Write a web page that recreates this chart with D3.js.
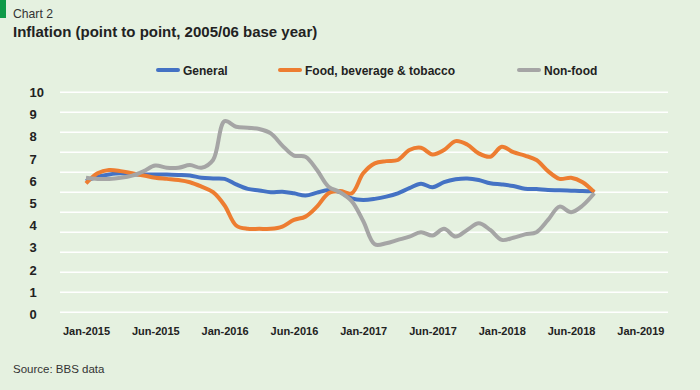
<!DOCTYPE html>
<html><head><meta charset="utf-8">
<script src="https://cdn.jsdelivr.net/npm/d3@7"></script>
<style>
html,body{margin:0;padding:0;background:#e5f1e0;}
svg{display:block;}
</style></head>
<body>
<script>
// ---- data ----
const tickLabels = ["Jan-2015","Jun-2015","Jan-2016","Jun-2016","Jan-2017","Jun-2017","Jan-2018","Jun-2018","Jan-2019"];
const tickMonths = [0,6,12,18,24,30,36,42,48];
const yTicks = [0,1,2,3,4,5,6,7,8,9,10];
const seriesNames = ["General","Food, beverage & tobacco","Non-food"];
// monthly, Jan-2015 .. Sep-2018 (month index 0..44)
const general = [6.0,6.2,6.3,6.35,6.3,6.3,6.3,6.3,6.28,6.25,6.15,6.12,6.1,5.85,5.65,5.58,5.5,5.52,5.45,5.35,5.48,5.6,5.5,5.22,5.15,5.2,5.3,5.45,5.68,5.88,5.72,5.95,6.08,6.12,6.05,5.9,5.85,5.78,5.66,5.64,5.6,5.59,5.57,5.55,5.55];
const food = [5.9,6.35,6.5,6.45,6.35,6.25,6.15,6.1,6.05,5.95,5.75,5.5,4.9,4.0,3.85,3.85,3.85,3.95,4.25,4.4,4.85,5.45,5.55,5.45,6.35,6.8,6.9,6.95,7.4,7.5,7.2,7.4,7.8,7.65,7.25,7.1,7.55,7.3,7.15,6.95,6.45,6.1,6.15,5.95,5.5];
const nonFood = [6.15,6.1,6.1,6.15,6.25,6.45,6.7,6.6,6.6,6.72,6.6,6.95,8.7,8.45,8.4,8.35,8.15,7.6,7.15,7.1,6.5,5.75,5.5,5.1,4.2,3.15,3.2,3.35,3.5,3.7,3.55,3.85,3.5,3.8,4.1,3.8,3.35,3.45,3.6,3.7,4.25,4.85,4.6,4.9,5.45];
const colors = ["#4472c4","#ed7d31","#a5a5a5"];

const W = 700, H = 390;
const FONT = "'Liberation Sans', Arial, sans-serif";
const svg = d3.select("body").append("svg").attr("width", W).attr("height", H);
svg.append("rect").attr("width", W).attr("height", H).attr("fill", "#e5f1e0");

// header
svg.append("rect").attr("x",0).attr("y",0).attr("width",6).attr("height",18).attr("fill","#0f9a48");
svg.append("text").attr("x",13).attr("y",18).attr("font-family",FONT).attr("font-size",12.2)
  .attr("fill","#333").text("Chart 2");
svg.append("text").attr("x",13).attr("y",37).attr("font-family",FONT).attr("font-size",15)
  .attr("font-weight","bold").attr("fill","#222").text("Inflation (point to point, 2005/06 base year)");

// scales
const x = d3.scaleLinear().domain([0,48]).range([86, 640.4]);
const y = d3.scaleLinear().domain([0,10]).range([314.3, 92.3]);
const yGrid = d3.scaleLinear().domain([0,11]).range([312.3, 92.3]);

// gridlines
svg.append("g").selectAll("line").data(d3.range(12)).join("line")
  .attr("x1",60).attr("x2",668)
  .attr("y1",d=>yGrid(d)).attr("y2",d=>yGrid(d))
  .attr("stroke","#fff").attr("stroke-width",1.4);

// y axis labels
const yAxis = svg.append("g")
  .call(d3.axisLeft(y).tickValues(yTicks).tickSize(0).tickFormat(d3.format("d")));
yAxis.select(".domain").remove();
yAxis.selectAll("text").attr("x",29.5).attr("text-anchor","start")
  .attr("font-family",FONT).attr("font-size",13).attr("font-weight","bold").attr("fill","#222");

// x axis labels
const xAxis = svg.append("g").attr("transform","translate(0,325)")
  .call(d3.axisBottom(x).tickValues(tickMonths).tickSize(0).tickFormat((d,i)=>tickLabels[i]));
xAxis.select(".domain").remove();
xAxis.selectAll("text").attr("y",0).attr("dy","0.95em")
  .attr("font-family",FONT).attr("font-size",11).attr("font-weight","bold").attr("fill","#222");

// lines (series order: General bottom, Non-food on top)
const line = d3.line().x((d,i)=>x(i)).y(d=>y(d)).curve(d3.curveCatmullRom.alpha(0.5));
[general, food, nonFood].forEach((s,i)=>{
  svg.append("path").datum(s).attr("d",line).attr("fill","none")
    .attr("stroke",colors[i]).attr("stroke-width",4).attr("stroke-linejoin","round").attr("stroke-linecap","butt");
});

// legend
const legendX = [158, 280, 519];
const lg = svg.append("g");
seriesNames.forEach((n,i)=>{
  lg.append("line").attr("x1",legendX[i]).attr("x2",legendX[i]+20).attr("y1",70).attr("y2",70)
    .attr("stroke",colors[i]).attr("stroke-width",4).attr("stroke-linecap","round");
  lg.append("text").attr("x",legendX[i]+25).attr("y",74.5).attr("font-family",FONT)
    .attr("font-size",12).attr("font-weight","bold").attr("fill","#222").text(n);
});

// source
svg.append("text").attr("x",13).attr("y",373).attr("font-family","'Liberation Sans Narrow', 'Arial Narrow', "+FONT)
  .attr("font-size",11.5).attr("fill","#333").text("Source: BBS data");
</script>
</body></html>
